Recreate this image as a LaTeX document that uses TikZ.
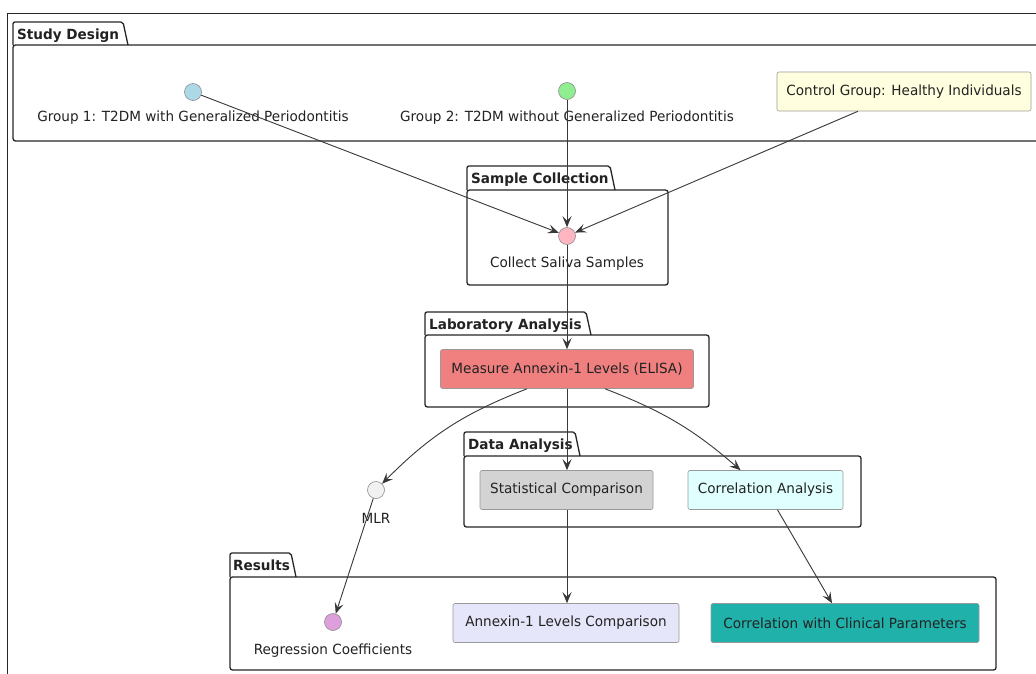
\documentclass[tikz,border=0pt]{standalone}
\usepackage{fontspec}
\setmainfont[FakeStretch=0.97]{DejaVu Sans}
\usetikzlibrary{arrows.meta}
\definecolor{edgec}{HTML}{383838}
\definecolor{txt}{HTML}{222222}
\definecolor{cBlue}{HTML}{ADD8E6}
\definecolor{cGreen}{HTML}{90EE90}
\definecolor{cYellow}{HTML}{FFFFE0}
\definecolor{cPink}{HTML}{FFB6C1}
\definecolor{cCoral}{HTML}{F08080}
\definecolor{cGray}{HTML}{D3D3D3}
\definecolor{cCyan}{HTML}{E0FFFF}
\definecolor{cWhite}{HTML}{F1F1F1}
\definecolor{cPlum}{HTML}{DDA0DD}
\definecolor{cLav}{HTML}{E6E6FA}
\definecolor{cSea}{HTML}{20B2AA}
\tikzset{
  every node/.style={text=txt},
  pkgline/.style={draw=black!85, line width=1.3pt},
  pkgtitle/.style={font=\fontsize{14}{16}\selectfont\bfseries, inner sep=0pt, anchor=base west},
  dot/.style={circle, minimum size=17pt, inner sep=0pt, draw=black!45, line width=0.6pt},
  lbl/.style={font=\fontsize{14}{16}\selectfont, inner sep=0pt},
  box/.style={rectangle, rounded corners=2pt, draw=black!40, line width=0.6pt, minimum height=39pt, inner sep=0pt, font=\fontsize{14}{16}\selectfont},
  arr/.style={draw=edgec, line width=0.9pt, -{Stealth[length=11pt,width=9pt,inset=4.5pt]}},
}
\newcommand{\pkgdraw}[6]{% x0 x1 ytab ybody ybot tabright
  \draw[pkgline, rounded corners=2pt] (#1,#4) -- (#1,#3) -- (#6,#3) -- ({#6+5},#4);
  \draw[pkgline, rounded corners=2.5pt] (#1,#4) rectangle (#2,#5);
}
\begin{document}
\begin{tikzpicture}[x=1pt,y=-1pt]
\clip (0,0) rectangle (1036,673);
\useasboundingbox (0,0) rectangle (1036,673);
\fill[white] (0,0) rectangle (1036,673);
% outer frame
\draw[black!85, line width=1pt] (7,690) -- (7,13) -- (1050,13);

% packages
\pkgdraw{13}{1050}{22}{45}{141}{123}
\node[pkgtitle] (tSD) at (17,39) {Study Design};
\pkgdraw{467}{668}{166}{190}{285}{610}
\node[pkgtitle] (tSC) at (471,183) {Sample Collection};
\pkgdraw{425}{709}{312}{335}{407}{586}
\node[pkgtitle] (tLA) at (429,329) {Laboratory Analysis};
\pkgdraw{464}{861}{432}{456}{527}{575}
\node[pkgtitle] (tDA) at (468,449) {Data Analysis};
\pkgdraw{230}{996}{553}{577}{670}{291}
\node[pkgtitle] (tR) at (233,570) {Results};

% nodes
\node[dot, fill=cBlue] (g1) at (193,92) {};
\node[lbl] (g1l) at (193,118) {Group 1: T2DM with Generalized Periodontitis};
\node[dot, fill=cGreen] (g2) at (567,91) {};
\node[lbl] (g2l) at (567,118) {Group 2: T2DM without Generalized Periodontitis};
\node[box, fill=cYellow, minimum width=254pt] (ctl) at (904,91.5) {Control Group: Healthy Individuals};

\node[dot, fill=cPink] (col) at (567,236) {};
\node[lbl] (coll) at (567,264) {Collect Saliva Samples};

\node[box, fill=cCoral, minimum width=253pt] (meas) at (567,369) {Measure Annexin-1 Levels (ELISA)};

\node[dot, fill=cWhite] (mlr) at (376,490) {};
\node[lbl] (mlrl) at (376,518) {MLR};
\node[box, fill=cGray, minimum width=173pt] (stat) at (566.5,490) {Statistical Comparison};
\node[box, fill=cCyan, minimum width=155pt] (corr) at (765.5,490) {Correlation Analysis};

\node[dot, fill=cPlum] (reg) at (333,622) {};
\node[lbl] (regl) at (333,650.5) {Regression Coefficients};
\node[box, fill=cLav, minimum width=226pt] (ann) at (566,623) {Annexin-1 Levels Comparison};
\node[box, fill=cSea, minimum width=268pt] (clin) at (845,623) {Correlation with Clinical Parameters};

% edges
\draw[arr] (g1) -- (col);
\draw[arr] (g2) -- (col);
\draw[arr] (ctl) -- (col);
\draw[arr] (col) -- (col |- meas.north);
\draw[arr] ([xshift=-40pt]meas.south) to[bend right=12] (mlr);
\draw[arr] (col |- meas.south) -- (col |- stat.north);
\draw[arr] ([xshift=38pt]meas.south) to[bend left=10] ([xshift=-25pt]corr.north);
\draw[arr] (mlr) -- (reg);
\draw[arr] (col |- stat.south) -- (col |- ann.north);
\draw[arr] ([xshift=12pt]corr.south) -- ([xshift=-13pt]clin.north);
\end{tikzpicture}
\end{document}
